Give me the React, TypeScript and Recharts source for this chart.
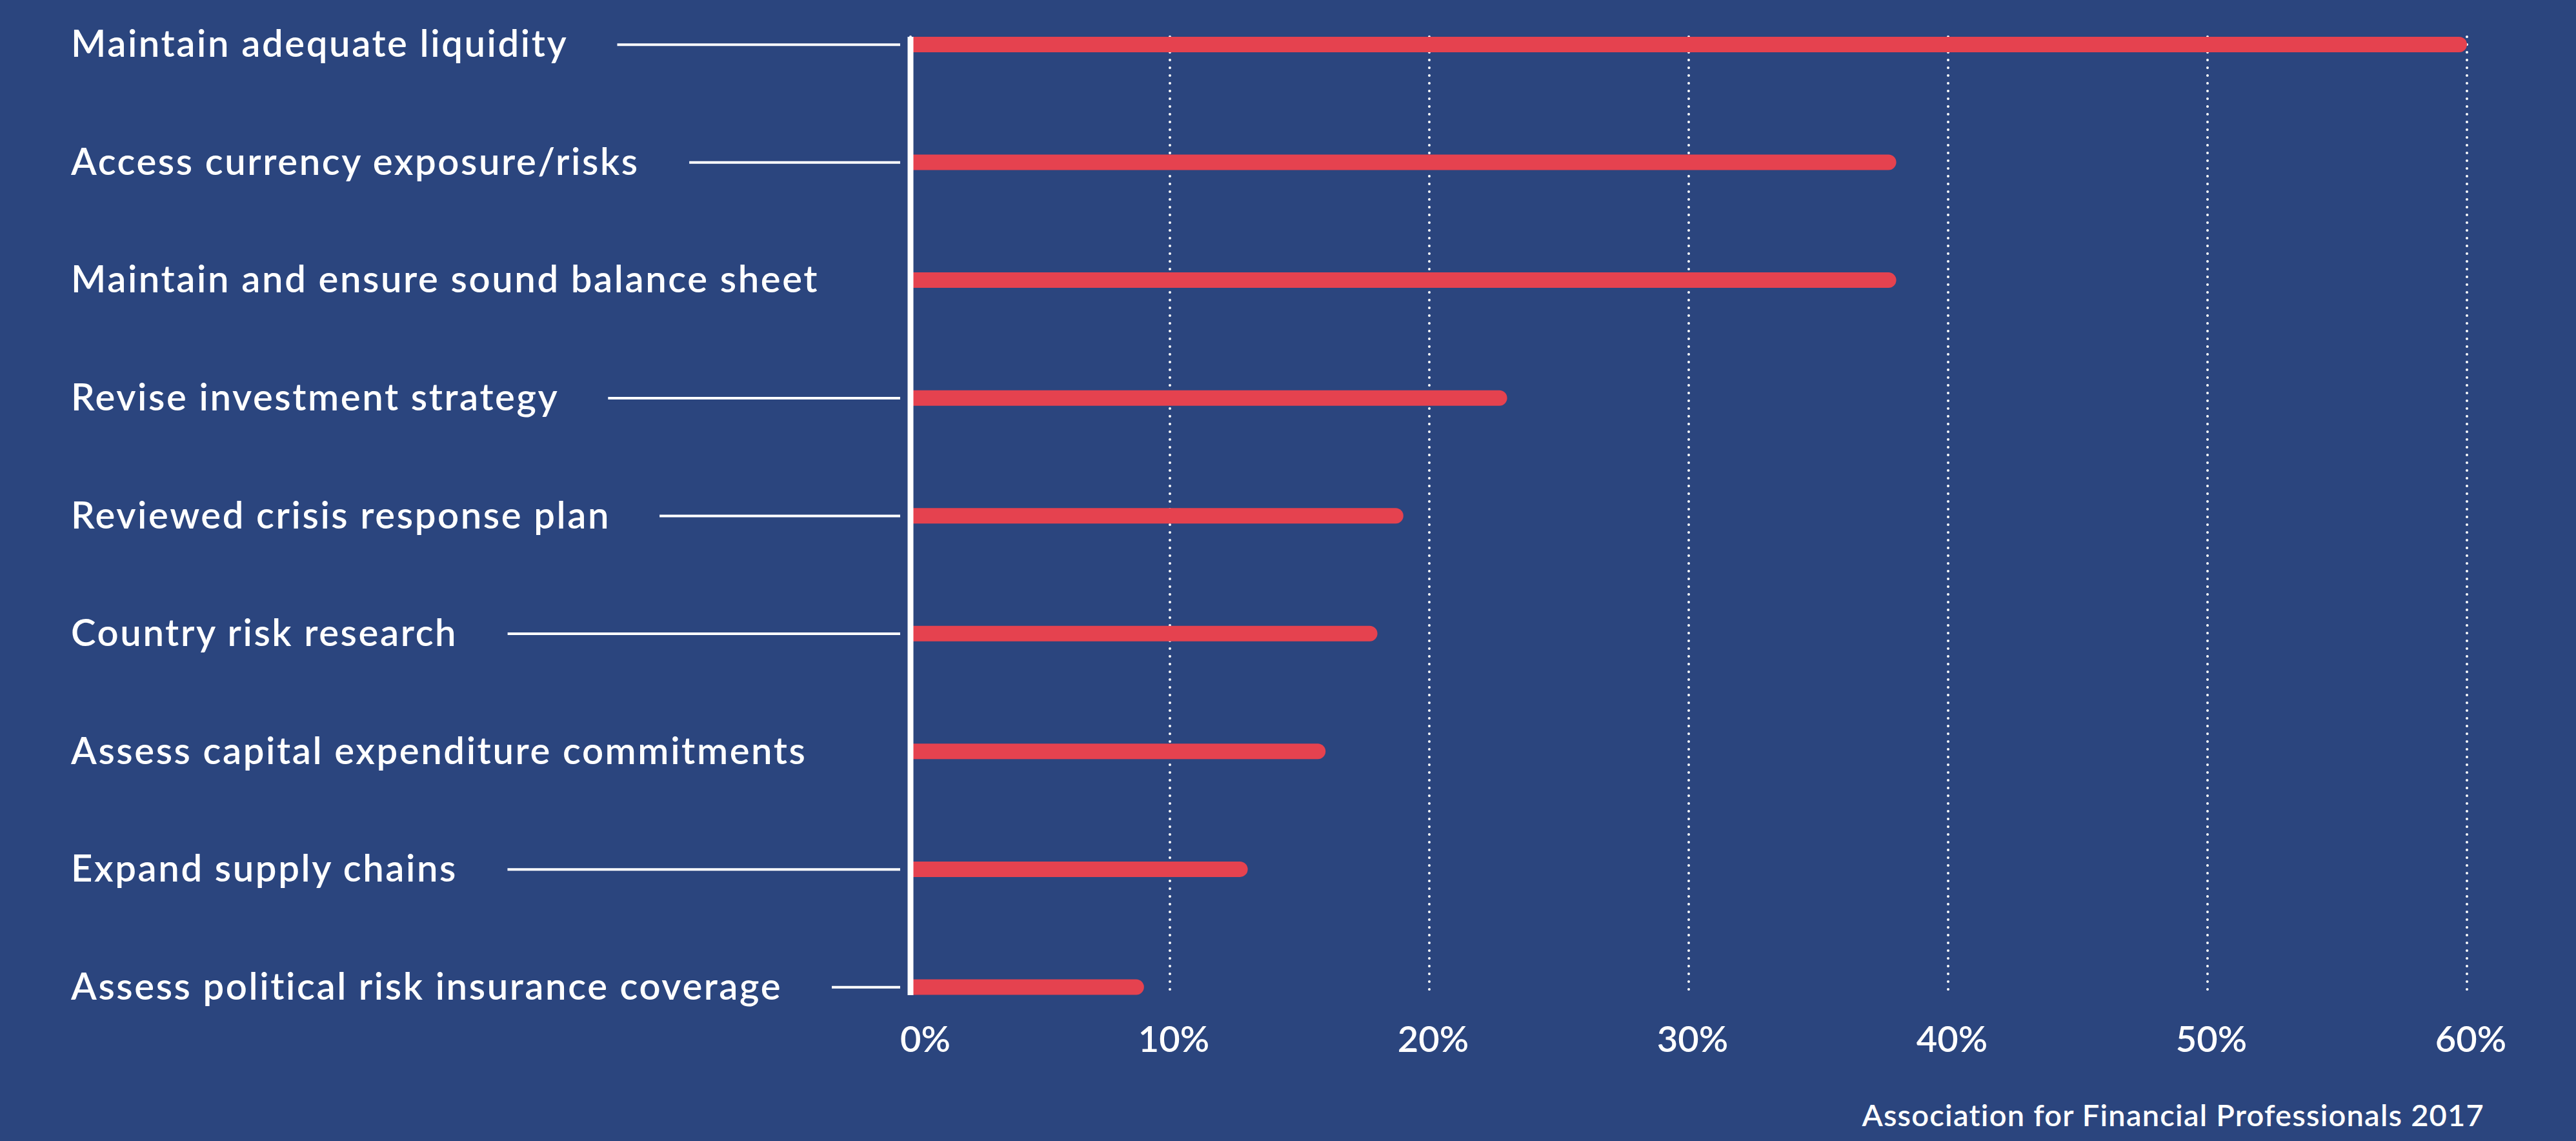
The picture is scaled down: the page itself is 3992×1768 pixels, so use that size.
import React from "react";
import { BarChart, Bar, XAxis, YAxis, CartesianGrid } from "recharts";

const categories = [
  "Maintain adequate liquidity",
  "Access currency exposure/risks",
  "Maintain and ensure sound balance sheet",
  "Revise investment strategy",
  "Reviewed crisis response plan",
  "Country risk research",
  "Assess capital expenditure commitments",
  "Expand supply chains",
  "Assess political risk insurance coverage",
];
const shares = [60, 38, 38, 23, 19, 18, 16, 13, 9];
const xTicks = [0, 10, 20, 30, 40, 50, 60];
const source = "Association for Financial Professionals 2017";

const data = categories.map((name, i) => ({ name, value: shares[i] }));

const BG = "#2B457E";
const RED = "#E5424F";
const FONT = "Lato, 'Open Sans', sans-serif";
const LABEL_SIZE = 58;
const LABEL_SPACING = 2.6;

let ctx: CanvasRenderingContext2D | null = null;
const measure = (s: string) => {
  if (!ctx) ctx = document.createElement("canvas").getContext("2d");
  if (!ctx) return s.length * LABEL_SIZE * 0.55;
  ctx.font = `600 ${LABEL_SIZE}px ${FONT}`;
  return ctx.measureText(s).width + s.length * LABEL_SPACING;
};

// category label on the far left, with a connector line to the axis when there's room
const CategoryTick = (props: any) => {
  const { x, y, payload } = props;
  const left = 110;
  const start = left + measure(payload.value) + 76;
  return (
    <g>
      <text
        x={left}
        y={y + 19}
        fill="#fff"
        fontFamily={FONT}
        fontWeight={600}
        fontSize={LABEL_SIZE}
        textAnchor="start"
        style={{ letterSpacing: LABEL_SPACING }}
      >
        {payload.value}
      </text>
      {x - start > 80 && (
        <line x1={start} x2={x} y1={y} y2={y} stroke="#fff" strokeWidth={4} />
      )}
    </g>
  );
};

const PercentTick = (props: any) => {
  const { x, y, payload } = props;
  return (
    <text
      x={x + (payload.value === 0 ? 23 : 6)}
      y={y + 88}
      fill="#fff"
      fontFamily={FONT}
      fontWeight={600}
      fontSize={56}
      textAnchor="middle"
    >
      {payload.value}%
    </text>
  );
};

export default function App() {
  return (
    <div
      style={{
        position: "absolute",
        left: 0,
        top: 0,
        width: 3992,
        height: 1768,
        background: BG,
      }}
    >
      <BarChart
        width={3992}
        height={1768}
        data={data}
        layout="vertical"
        margin={{ top: 57, right: 169, bottom: 0, left: 0 }}
      >
        <CartesianGrid
          horizontal={false}
          stroke="#fff"
          strokeWidth={4}
          strokeDasharray="0 12"
          strokeLinecap="round"
        />
        <Bar
          dataKey="value"
          fill={RED}
          barSize={24}
          radius={[0, 12, 12, 0]}
          isAnimationActive={false}
        />
        <XAxis
          type="number"
          domain={[0, 60]}
          ticks={xTicks}
          axisLine={false}
          tickLine={false}
          tickSize={0}
          tickMargin={0}
          height={226}
          tick={<PercentTick />}
          interval={0}
        />
        <YAxis
          type="category"
          dataKey="name"
          width={1411}
          axisLine={{ stroke: "#fff", strokeWidth: 9 }}
          tickLine={false}
          tickSize={0}
          tickMargin={16}
          padding={{ top: -79, bottom: -79 }}
          tick={<CategoryTick />}
          interval={0}
        />
      </BarChart>
      <div
        style={{
          position: "absolute",
          right: 3992 - 3850,
          top: 1698,
          color: "#fff",
          fontFamily: FONT,
          fontWeight: 600,
          fontSize: 47,
          letterSpacing: 1.2,
          lineHeight: "58px",
          whiteSpace: "nowrap",
        }}
      >
        {source}
      </div>
    </div>
  );
}
